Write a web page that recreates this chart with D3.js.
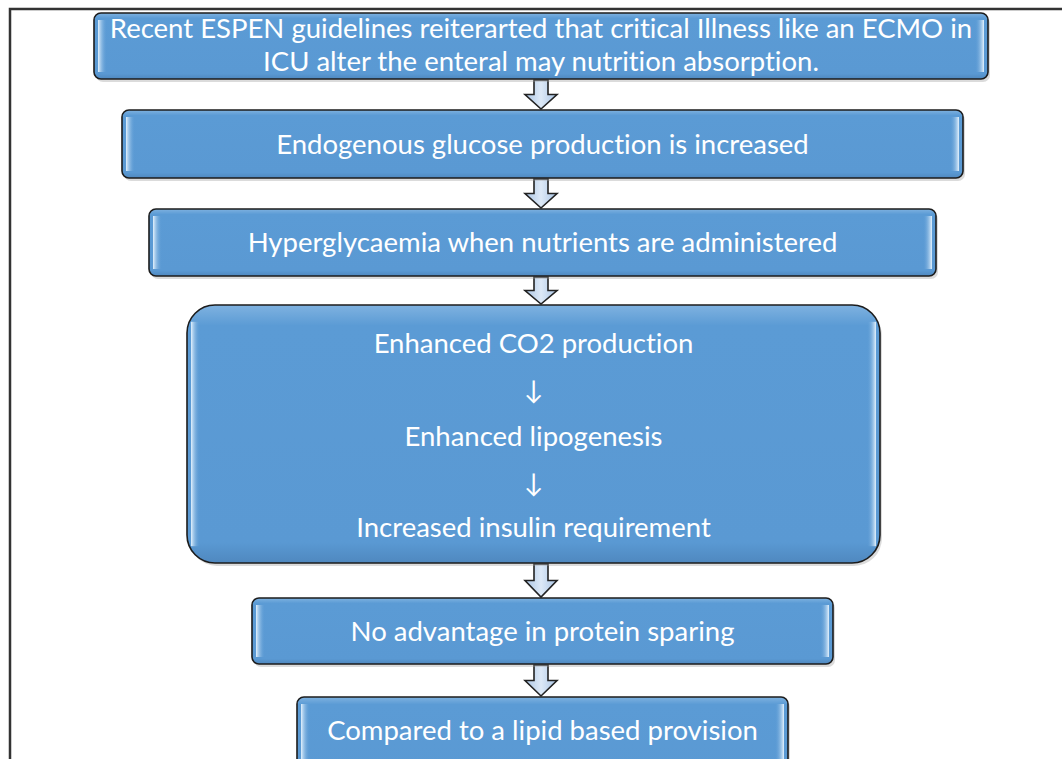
<!DOCTYPE html>
<html>
<head>
<meta charset="utf-8">
<script src="https://cdn.jsdelivr.net/npm/d3@7"></script>
<style>
  body { margin: 0; background: #fff; }
  svg { display: block; }
</style>
</head>
<body>
<div id="chart"></div>
<script>
// flow steps (one entry per box, lines inside each box)
const steps = [
  ["Recent ESPEN guidelines reiterarted that critical Illness like an ECMO in",
   "ICU alter the enteral may nutrition absorption."],
  ["Endogenous glucose production is increased"],
  ["Hyperglycaemia when nutrients are administered"],
  ["Enhanced CO2 production", "\u2193", "Enhanced lipogenesis", "\u2193", "Increased insulin requirement"],
  ["No advantage in protein sparing"],
  ["Compared to a lipid based provision"]
];

// box layout: left, right, top, bottom (px), corner radius
const boxLeft   = [94, 122, 149, 187, 252, 297];
const boxRight  = [988, 963, 936, 880, 833, 788];
const boxTop    = [13, 110, 209, 305, 598, 697];
const boxBottom = [79, 178, 276, 563, 664, 790];
const boxRadius = [7, 7, 7, 28, 7, 7];
// text line centres per box
const lineY = [[27, 60], [143], [241], [342, 389, 435, 482, 526], [630], [729]];

const W = 1062, H = 759;
const svg = d3.select("#chart").append("svg")
  .attr("width", W).attr("height", H);

const defs = svg.append("defs");
const gl = defs.append("linearGradient").attr("id", "stripL").attr("x1", 0).attr("x2", 1);
gl.append("stop").attr("offset", "0%").attr("stop-color", "#eaf6ff").attr("stop-opacity", 0.95);
gl.append("stop").attr("offset", "100%").attr("stop-color", "#5b9bd5").attr("stop-opacity", 0);
const gr = defs.append("linearGradient").attr("id", "stripR").attr("x1", 1).attr("x2", 0);
gr.append("stop").attr("offset", "0%").attr("stop-color", "#eaf6ff").attr("stop-opacity", 0.95);
gr.append("stop").attr("offset", "100%").attr("stop-color", "#5b9bd5").attr("stop-opacity", 0);
const gv = defs.append("linearGradient").attr("id", "boxV").attr("x1", 0).attr("x2", 0).attr("y1", 0).attr("y2", 1);
gv.append("stop").attr("offset", "0%").attr("stop-color", "#7fb2e0");
gv.append("stop").attr("offset", "8%").attr("stop-color", "#5b9bd5");
gv.append("stop").attr("offset", "92%").attr("stop-color", "#5a99d3");
gv.append("stop").attr("offset", "100%").attr("stop-color", "#4f88bf");
const ga = defs.append("linearGradient").attr("id", "arrowFill").attr("x1", 0).attr("x2", 1);
ga.append("stop").attr("offset", "0%").attr("stop-color", "#a9c4e4");
ga.append("stop").attr("offset", "50%").attr("stop-color", "#dde9f7");
ga.append("stop").attr("offset", "100%").attr("stop-color", "#a9c4e4");

// outer frame
svg.append("path")
  .attr("d", `M10,${H}V9H${W}`)
  .attr("fill", "none")
  .attr("stroke", "#333")
  .attr("stroke-width", 2.5);

const boxes = steps.map((lines, i) => ({
  lines, x0: boxLeft[i], x1: boxRight[i], y0: boxTop[i], y1: boxBottom[i], r: boxRadius[i], ly: lineY[i]
}));

// arrows between boxes
const cx = 541;
boxes.slice(0, -1).forEach((b, i) => {
  const top = b.y1 + 1, tip = boxes[i + 1].y0 - 1;
  const mid = top + (tip - top) * 0.5;
  const p = d3.path();
  p.moveTo(cx - 7, top); p.lineTo(cx + 7, top); p.lineTo(cx + 7, mid);
  p.lineTo(cx + 16, mid); p.lineTo(cx, tip); p.lineTo(cx - 16, mid);
  p.lineTo(cx - 7, mid); p.closePath();
  svg.append("path").attr("d", p.toString())
    .attr("fill", "url(#arrowFill)")
    .attr("stroke", "#222").attr("stroke-width", 1.6)
    .attr("stroke-linejoin", "miter");
});

const g = svg.selectAll("g.box").data(boxes).join("g").attr("class", "box");

// shadow
g.append("rect")
  .attr("x", d => d.x0 + 2).attr("y", d => d.y0 + 3)
  .attr("width", d => d.x1 - d.x0).attr("height", d => d.y1 - d.y0)
  .attr("rx", d => d.r).attr("fill", "#999").attr("opacity", 0.35);

g.append("rect")
  .attr("x", d => d.x0).attr("y", d => d.y0)
  .attr("width", d => d.x1 - d.x0).attr("height", d => d.y1 - d.y0)
  .attr("rx", d => d.r)
  .attr("fill", "url(#boxV)")
  .attr("stroke", "#1c1c1c").attr("stroke-width", 1.6);

// bevel strips on the ends
g.append("rect")
  .attr("x", d => d.x0 + 4).attr("y", d => d.y0 + (d.r > 10 ? d.r * 0.6 : 7))
  .attr("width", 9).attr("height", d => d.y1 - d.y0 - 2 * (d.r > 10 ? d.r * 0.6 : 7))
  .attr("fill", "url(#stripL)");
g.append("rect")
  .attr("x", d => d.x1 - 13).attr("y", d => d.y0 + (d.r > 10 ? d.r * 0.6 : 7))
  .attr("width", 9).attr("height", d => d.y1 - d.y0 - 2 * (d.r > 10 ? d.r * 0.6 : 7))
  .attr("fill", "url(#stripR)");

// labels
g.each(function(d) {
  const sel = d3.select(this);
  const mx = (d.x0 + d.x1) / 2;
  d.lines.forEach((t, j) => {
    sel.append("text")
      .attr("x", mx).attr("y", d.ly[j])
      .attr("text-anchor", "middle")
      .attr("dominant-baseline", "central")
      .attr("fill", "#fff")
      .style("font-family", "Lato, 'Open Sans', sans-serif")
      .style("font-variant-ligatures", "none")
      .style("font-size", t === "\u2193" ? "26px" : "27.5px")
      .text(t);
  });
});
</script>
</body>
</html>
